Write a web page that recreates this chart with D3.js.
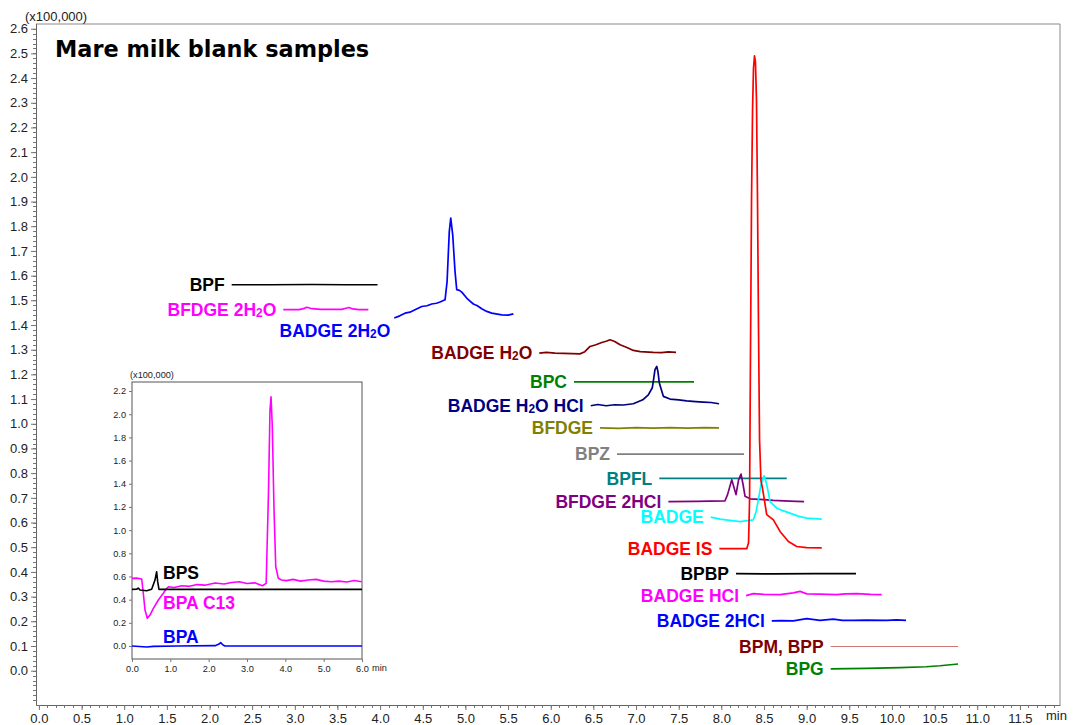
<!DOCTYPE html>
<html><head><meta charset="utf-8">
<script src="https://cdn.jsdelivr.net/npm/d3@7"></script>
<style>body{margin:0;background:#fff}svg{display:block}</style>
</head><body>
<svg id="chart" width="1078" height="725"></svg>
<script>
// ---------------- DATA ----------------
// main chart tick labels
const xTickValues = [0,0.5,1,1.5,2,2.5,3,3.5,4,4.5,5,5.5,6,6.5,7,7.5,8,8.5,9,9.5,10,10.5,11,11.5];
const xTickLabels = ["0.0","0.5","1.0","1.5","2.0","2.5","3.0","3.5","4.0","4.5","5.0","5.5","6.0","6.5","7.0","7.5","8.0","8.5","9.0","9.5","10.0","10.5","11.0","11.5"];
const yTickValues = [0,0.1,0.2,0.3,0.4,0.5,0.6,0.7,0.8,0.9,1.0,1.1,1.2,1.3,1.4,1.5,1.6,1.7,1.8,1.9,2.0,2.1,2.2,2.3,2.4,2.5,2.6];
const yTickLabels = ["0.0","0.1","0.2","0.3","0.4","0.5","0.6","0.7","0.8","0.9","1.0","1.1","1.2","1.3","1.4","1.5","1.6","1.7","1.8","1.9","2.0","2.1","2.2","2.3","2.4","2.5","2.6"];

// main chromatogram traces: [time (min), intensity (x100,000)]
const BPF = [[2.26,1.563],[2.7,1.563],[3.2,1.564],[3.6,1.563],[3.97,1.563]];
const BFDGE_2H2O = [[2.865,1.462],[3.05,1.462],[3.10,1.466],[3.14,1.472],[3.20,1.466],[3.30,1.463],[3.55,1.463],[3.60,1.468],[3.635,1.471],[3.68,1.465],[3.75,1.462],[3.862,1.462]];
const BADGE_2H2O = [[4.166,1.428],[4.23,1.437],[4.292,1.448],[4.35,1.452],[4.409,1.462],[4.488,1.475],[4.55,1.478],[4.605,1.485],[4.66,1.488],[4.702,1.493],[4.761,1.502],[4.785,1.576],[4.811,1.779],[4.828,1.833],[4.851,1.765],[4.878,1.617],[4.898,1.543],[4.93,1.540],[4.957,1.533],[5.015,1.509],[5.05,1.498],[5.093,1.485],[5.14,1.478],[5.191,1.466],[5.25,1.455],[5.308,1.448],[5.426,1.441],[5.50,1.440],[5.562,1.445]];
const BADGE_H2O = [[5.866,1.286],[5.95,1.289],[6.05,1.286],[6.15,1.285],[6.25,1.284],[6.343,1.283],[6.40,1.292],[6.461,1.313],[6.53,1.320],[6.598,1.329],[6.65,1.334],[6.695,1.340],[6.75,1.333],[6.813,1.320],[6.9,1.308],[6.968,1.297],[7.05,1.292],[7.203,1.289],[7.3,1.288],[7.38,1.291],[7.469,1.289]];
const BPC = [[6.273,1.170],[6.8,1.170],[7.3,1.170],[7.68,1.170]];
const BADGE_H2O_HCL = [[6.469,1.073],[6.55,1.078],[6.65,1.073],[6.75,1.077],[6.85,1.076],[6.968,1.081],[7.079,1.097],[7.144,1.117],[7.191,1.146],[7.205,1.178],[7.222,1.219],[7.243,1.232],[7.257,1.211],[7.273,1.165],[7.320,1.111],[7.398,1.100],[7.5,1.097],[7.594,1.093],[7.7,1.090],[7.789,1.088],[7.88,1.086],[7.973,1.081]];
const BFDGE = [[6.578,0.983],[6.8,0.981],[7.0,0.984],[7.2,0.982],[7.4,0.984],[7.6,0.982],[7.8,0.984],[7.973,0.983]];
const BPZ = [[6.777,0.877],[7.3,0.877],[7.8,0.877],[8.266,0.877]];
const BPFL = [[7.273,0.779],[7.8,0.779],[8.3,0.779],[8.767,0.779]];
const BFDGE_2HCL = [[7.379,0.685],[7.7,0.686],[8.043,0.688],[8.073,0.713],[8.122,0.773],[8.149,0.741],[8.172,0.713],[8.202,0.773],[8.231,0.796],[8.255,0.753],[8.278,0.706],[8.337,0.696],[8.5,0.693],[8.61,0.690],[8.8,0.687],[8.97,0.685]];
const BADGE = [[7.876,0.622],[7.985,0.614],[8.1,0.609],[8.220,0.604],[8.375,0.611],[8.407,0.644],[8.434,0.692],[8.466,0.757],[8.501,0.789],[8.524,0.765],[8.544,0.733],[8.571,0.685],[8.648,0.659],[8.72,0.648],[8.804,0.638],[8.9,0.626],[9.001,0.618],[9.177,0.614]];
const BADGE_IS = [[7.977,0.494],[8.15,0.494],[8.298,0.494],[8.319,0.518],[8.331,0.694],[8.342,1.300],[8.354,1.910],[8.366,2.275],[8.377,2.440],[8.389,2.490],[8.400,2.466],[8.412,2.310],[8.424,1.910],[8.436,1.380],[8.448,0.935],[8.464,0.772],[8.485,0.733],[8.532,0.632],[8.610,0.611],[8.688,0.564],[8.786,0.523],[8.884,0.503],[9.0,0.498],[9.177,0.497]];
const BPBP = [[8.172,0.393],[8.6,0.392],[9.1,0.393],[9.579,0.393]];
const BADGE_HCL = [[8.290,0.304],[8.375,0.312],[8.5,0.309],[8.688,0.308],[8.844,0.315],[8.923,0.321],[9.001,0.311],[9.15,0.310],[9.353,0.308],[9.45,0.311],[9.587,0.312],[9.75,0.309],[9.880,0.308]];
const BADGE_2HCL = [[8.591,0.202],[8.7,0.203],[8.844,0.202],[9.001,0.211],[9.157,0.204],[9.313,0.209],[9.42,0.204],[9.547,0.204],[9.7,0.205],[9.939,0.204],[10.056,0.206],[10.165,0.204]];
const BPM_BPP = [[9.282,0.098],[9.8,0.098],[10.3,0.098],[10.775,0.098]];
const BPG = [[9.282,0.007],[9.7,0.009],[10.095,0.012],[10.4,0.016],[10.564,0.020],[10.775,0.027]];

const traceNames = ["BPF","BFDGE 2H2O","BADGE 2H2O","BADGE H2O","BPC","BADGE H2O HCl","BFDGE","BPZ","BPFL","BFDGE 2HCl","BADGE","BADGE IS","BPBP","BADGE HCl","BADGE 2HCl","BPM, BPP","BPG"];
const traceData = [BPF,BFDGE_2H2O,BADGE_2H2O,BADGE_H2O,BPC,BADGE_H2O_HCL,BFDGE,BPZ,BPFL,BFDGE_2HCL,BADGE,BADGE_IS,BPBP,BADGE_HCL,BADGE_2HCL,BPM_BPP,BPG];

// inset chart
const insetXTickValues = [0,1,2,3,4,5,6];
const insetXTickLabels = ["0.0","1.0","2.0","3.0","4.0","5.0","6.0"];
const insetYTickValues = [0,0.2,0.4,0.6,0.8,1.0,1.2,1.4,1.6,1.8,2.0,2.2];
const insetYTickLabels = ["0.0","0.2","0.4","0.6","0.8","1.0","1.2","1.4","1.6","1.8","2.0","2.2"];
const BPA_C13 = [[0,0.584],[0.12,0.586],[0.253,0.578],[0.295,0.455],[0.339,0.311],[0.40,0.239],[0.47,0.267],[0.557,0.325],[0.687,0.397],[0.817,0.455],[0.905,0.498],[0.96,0.512],[1.1,0.505],[1.3,0.52],[1.5,0.515],[1.7,0.53],[1.9,0.525],[2.17,0.544],[2.4,0.535],[2.6,0.548],[2.8,0.555],[3.0,0.540],[3.2,0.545],[3.4,0.52],[3.50,0.541],[3.56,1.317],[3.60,2.036],[3.627,2.151],[3.66,1.892],[3.705,1.173],[3.75,0.684],[3.818,0.584],[3.9,0.570],[4.03,0.564],[4.2,0.575],[4.4,0.560],[4.6,0.570],[4.8,0.575],[5.0,0.560],[5.2,0.555],[5.4,0.560],[5.6,0.552],[5.8,0.565],[5.99,0.555]];
const BPS = [[0,0.489],[0.12,0.49],[0.164,0.50],[0.209,0.483],[0.383,0.477],[0.513,0.489],[0.60,0.569],[0.643,0.641],[0.67,0.555],[0.704,0.489],[2,0.489],[4,0.489],[6,0.489]];
const BPA = [[0,0],[0.383,-0.009],[0.557,-0.003],[1.2,0.0],[2.17,0.003],[2.27,0.017],[2.313,0.029],[2.374,0.009],[2.426,0],[4,0],[6,0]];
const insetNames = ["BPA C13","BPS","BPA"];
const insetData = [BPA_C13,BPS,BPA];
// label anchor (time, intensity) inside the inset
const insetLabelTimes = [0.81,0.81,0.81];
const insetLabelValues = [0.371,0.63,0.078];

// ---------------- STYLE ----------------
const traceColors = ["#000000","#ff00ff","#0000ff","#800000","#008000","#000080","#808000","#808080","#008080","#800080","#00ffff","#ff0000","#000000","#ff00ff","#0000ff","#d07878","#008000"];
const labelColors = ["#000000","#ff00ff","#0000ff","#800000","#008000","#000080","#808000","#808080","#008080","#800080","#00ffff","#ff0000","#000000","#ff00ff","#0000ff","#800000","#008000"];
const insetColors = ["#ff00ff","#000000","#0000ff"];

const svg = d3.select("#chart");
const W = 1078, H = 725;
const plot = {left:36, right:1060, top:24, bottom:705};
const x = d3.scaleLinear().domain([-0.034, 11.97]).range([plot.left, plot.right]);
const y = d3.scaleLinear().domain([-0.139, 2.619]).range([plot.bottom, plot.top]);

const axisFont = "'Liberation Sans', Arial, sans-serif";
const axisColor = "#777";

// frame (top & right)
svg.append("path")
  .attr("d", `M${plot.left},${plot.top}H${plot.right}V${plot.bottom}`)
  .attr("fill","none").attr("stroke","#8a8a8a").attr("stroke-width",1);

// minor ticks
const gMinor = svg.append("g").attr("stroke", axisColor).attr("stroke-width",1);
d3.range(-0.12, 2.6001, 0.02).forEach(v => {
  const yy = Math.round(y(v)) + 0.5;
  gMinor.append("line").attr("x1", plot.left - 3).attr("x2", plot.left).attr("y1", yy).attr("y2", yy);
});
d3.range(0, 11.901, 0.1).forEach(v => {
  const xx = Math.round(x(v)) + 0.5;
  gMinor.append("line").attr("x1", xx).attr("x2", xx).attr("y1", plot.bottom).attr("y2", plot.bottom + 3);
});

// axes
const yAxis = d3.axisLeft(y).tickValues(yTickValues).tickFormat((d,i)=>yTickLabels[i]).tickSize(5).tickSizeOuter(0).tickPadding(3);
const gy = svg.append("g").attr("transform",`translate(${plot.left},0)`).call(yAxis);
const xAxis = d3.axisBottom(x).tickValues(xTickValues).tickFormat((d,i)=>xTickLabels[i]).tickSize(5).tickSizeOuter(0).tickPadding(4);
const gx = svg.append("g").attr("transform",`translate(0,${plot.bottom})`).call(xAxis);
[gx, gy].forEach(g => {
  g.select(".domain").attr("stroke", "#666");
  g.selectAll(".tick line").attr("stroke", axisColor);
  g.selectAll(".tick text").attr("font-family", axisFont).attr("font-size", 13).attr("fill","#222");
});
// extend y domain line to bottom
svg.append("line").attr("x1",plot.left+0.5).attr("x2",plot.left+0.5).attr("y1",plot.top).attr("y2",plot.bottom).attr("stroke","#666");

svg.append("text").attr("x", 25).attr("y", 21).attr("font-family", axisFont).attr("font-size", 13).attr("fill","#222").text("(x100,000)");
svg.append("text").attr("x", 1046).attr("y", 720).attr("font-family", axisFont).attr("font-size", 13).attr("fill","#222").text("min");

// title
svg.append("text").attr("x", 55).attr("y", 57).attr("font-family","'DejaVu Sans', Verdana, sans-serif").attr("font-weight","bold").attr("font-size", 22.4).attr("fill","#000").text("Mare milk blank samples");

// label writer with subscript 2 in H2O
function writeLabel(sel, name) {
  const parts = name.split("H2O");
  parts.forEach((p, i) => {
    if (p) sel.append("tspan").text(p);
    if (i < parts.length - 1) {
      sel.append("tspan").text("H");
      sel.append("tspan").attr("font-size","0.68em").attr("dy", 1).text("2");
      sel.append("tspan").attr("dy", -1).text("O");
    }
  });
}

const line = d3.line().x(d => x(d[0])).y(d => y(d[1]));
const labelFont = "'Liberation Sans', Arial, sans-serif";
const gTraces = svg.append("g");
traceData.forEach((data, i) => {
  const thin = traceNames[i] === "BPM, BPP";
  gTraces.append("path").attr("d", line(data)).attr("fill","none")
    .attr("stroke", traceColors[i]).attr("stroke-width", thin ? 1.2 : 1.7)
    .attr("stroke-linejoin","round");
  const special = traceNames[i] === "BADGE 2H2O";
  const lx = x(data[0][0]) - (special ? 4 : 7);
  const ly = y(data[0][1]) + (special ? 12.5 : 0);
  const t = gTraces.append("text").attr("x", lx).attr("y", ly).attr("dy","0.36em")
    .attr("text-anchor","end").attr("font-family", labelFont).attr("font-weight","bold")
    .attr("font-size", 17.5).attr("fill", labelColors[i]);
  writeLabel(t, traceNames[i]);
});

// ---------------- INSET ----------------
const ins = {left:132, right:362, top:382, bottom:659};
const ix = d3.scaleLinear().domain([0, 6]).range([ins.left, ins.right]);
const iy = d3.scaleLinear().domain([-0.112, 2.278]).range([ins.bottom, ins.top]);
const gi = svg.append("g");
gi.append("rect").attr("x", ins.left).attr("y", ins.top).attr("width", ins.right-ins.left).attr("height", ins.bottom-ins.top)
  .attr("fill","#fff").attr("stroke","#555").attr("stroke-width",1);

const iyAxis = d3.axisLeft(iy).tickValues(insetYTickValues).tickFormat((d,i)=>insetYTickLabels[i]).tickSize(3).tickSizeOuter(0).tickPadding(3);
const ixAxis = d3.axisBottom(ix).tickValues(insetXTickValues).tickFormat((d,i)=>insetXTickLabels[i]).tickSize(3).tickSizeOuter(0).tickPadding(3);
const giy = gi.append("g").attr("transform",`translate(${ins.left},0)`).call(iyAxis);
const gix = gi.append("g").attr("transform",`translate(0,${ins.bottom})`).call(ixAxis);
[giy, gix].forEach(g => {
  g.select(".domain").remove();
  g.selectAll(".tick line").attr("stroke", axisColor);
  g.selectAll(".tick text").attr("font-family", axisFont).attr("font-size", 9.2).attr("fill","#222");
});
gi.append("text").attr("x", 130).attr("y", 378).attr("font-family", axisFont).attr("font-size", 9.2).attr("fill","#222").text("(x100,000)");
gi.append("text").attr("x", 372).attr("y", 671).attr("font-family", axisFont).attr("font-size", 9.2).attr("fill","#222").text("min");

const iline = d3.line().x(d => ix(d[0])).y(d => iy(d[1]));
insetData.forEach((data, i) => {
  gi.append("path").attr("d", iline(data)).attr("fill","none")
    .attr("stroke", insetColors[i]).attr("stroke-width", 1.6).attr("stroke-linejoin","round");
});
insetData.forEach((data, i) => {
  gi.append("text").attr("x", ix(insetLabelTimes[i])).attr("y", iy(insetLabelValues[i])).attr("dy","0.36em")
    .attr("font-family", labelFont).attr("font-weight","bold").attr("font-size", 17.5)
    .attr("fill", insetColors[i]).text(insetNames[i]);
});
</script>
</body></html>
